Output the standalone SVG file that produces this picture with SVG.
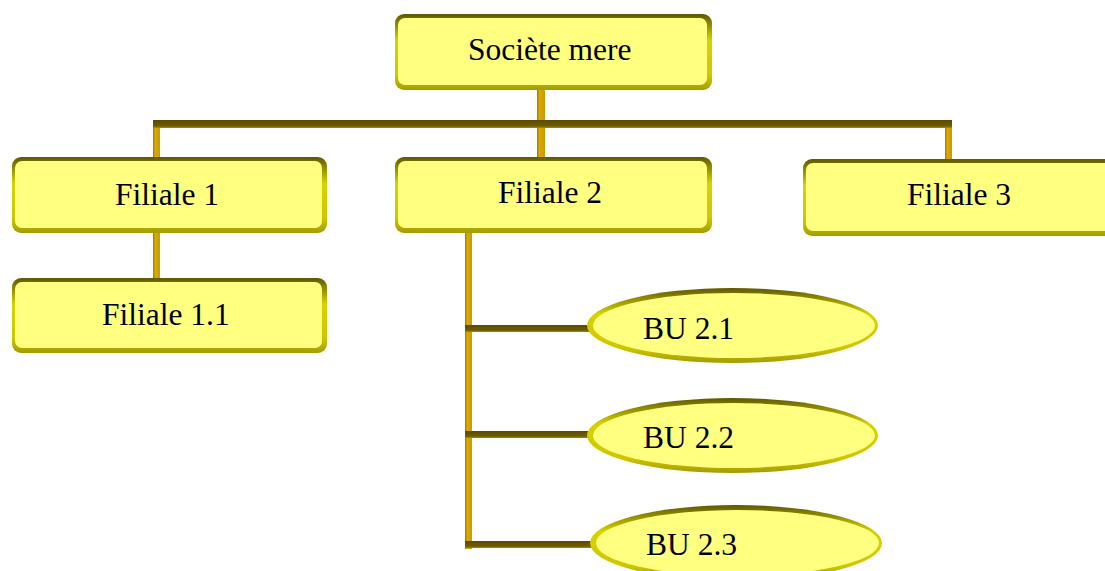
<svg xmlns="http://www.w3.org/2000/svg" width="1105" height="571" viewBox="0 0 1105 571">
  <defs>
    <!-- bevelled rim for boxes and ovals -->
    <linearGradient id="rim" x1="0" y1="0" x2="0" y2="1">
      <stop offset="0" stop-color="#5E5800"/>
      <stop offset="0.12" stop-color="#8A8400"/>
      <stop offset="0.35" stop-color="#D8D200"/>
      <stop offset="0.8" stop-color="#CFC600"/>
      <stop offset="1" stop-color="#A49C00"/>
    </linearGradient>
    <!-- vertical connector bar -->
    <linearGradient id="vbar" x1="0" y1="0" x2="1" y2="0">
      <stop offset="0" stop-color="#9C7800"/>
      <stop offset="0.3" stop-color="#D8AA00"/>
      <stop offset="1" stop-color="#C89C00"/>
    </linearGradient>
    <!-- horizontal connector bar -->
    <linearGradient id="hbar" x1="0" y1="0" x2="0" y2="1">
      <stop offset="0" stop-color="#5A4A00"/>
      <stop offset="0.75" stop-color="#6E5C00"/>
      <stop offset="1" stop-color="#A89000"/>
    </linearGradient>
  </defs>
  <style>
    .rim { fill: url(#rim); }
    .face { fill: #FFFF80; }
    .v { fill: url(#vbar); }
    .h { fill: url(#hbar); }
    .label { font-family: "Liberation Serif", "Times New Roman", serif; font-size: 31.5px; fill: #000; }
  </style>

  <rect width="1105" height="571" fill="#FFFFFF"/>

  <g id="connectors">
    <!-- parent to the three subsidiaries -->
    <rect class="v" x="537" y="88" width="8" height="71"/>
    <rect class="v" x="153" y="124" width="7" height="35"/>
    <rect class="v" x="945" y="124" width="7" height="37"/>
    <rect class="h" x="153" y="120" width="799" height="8"/>
    <!-- Filiale 1 to Filiale 1.1 -->
    <rect class="v" x="153" y="231" width="7" height="49"/>
    <!-- Filiale 2 to business units -->
    <rect class="v" x="465" y="231" width="7" height="318"/>
    <rect class="h" x="465" y="325" width="126" height="7"/>
    <rect class="h" x="465" y="431" width="126" height="7"/>
    <rect class="h" x="465" y="541" width="128" height="7"/>
  </g>

  <g id="societe-mere">
    <rect class="rim" x="395" y="14" width="317" height="76" rx="9"/>
    <rect class="face" x="398" y="18" width="309" height="67" rx="7"/>
    <text class="label" x="468" y="60">Sociète mere</text>
  </g>

  <g id="filiale-1">
    <rect class="rim" x="12" y="157" width="315" height="76" rx="9"/>
    <rect class="face" x="15" y="161" width="307" height="67" rx="7"/>
    <text class="label" x="115" y="205">Filiale 1</text>
  </g>

  <g id="filiale-1-1">
    <rect class="rim" x="12" y="278" width="315" height="75" rx="9"/>
    <rect class="face" x="15" y="282" width="307" height="66" rx="7"/>
    <text class="label" x="102" y="325">Filiale 1.1</text>
  </g>

  <g id="filiale-2">
    <rect class="rim" x="395" y="157" width="317" height="76" rx="9"/>
    <rect class="face" x="398" y="161" width="309" height="67" rx="7"/>
    <text class="label" x="498" y="203">Filiale 2</text>
  </g>

  <g id="filiale-3">
    <rect class="rim" x="803" y="159" width="320" height="77" rx="9"/>
    <rect class="face" x="806" y="163" width="315" height="68" rx="7"/>
    <text class="label" x="907" y="205">Filiale 3</text>
  </g>

  <g id="bu-2-1">
    <ellipse class="rim" cx="732.5" cy="325.5" rx="145.5" ry="37.5"/>
    <ellipse class="face" cx="734" cy="325.5" rx="141" ry="32.5"/>
    <text class="label" x="643" y="339">BU 2.1</text>
  </g>

  <g id="bu-2-2">
    <ellipse class="rim" cx="732.5" cy="435.5" rx="145.5" ry="37.5"/>
    <ellipse class="face" cx="734" cy="435.5" rx="141" ry="32.5"/>
    <text class="label" x="643" y="448">BU 2.2</text>
  </g>

  <g id="bu-2-3">
    <ellipse class="rim" cx="736" cy="543" rx="146" ry="38"/>
    <ellipse class="face" cx="737.5" cy="543" rx="141.5" ry="33"/>
    <text class="label" x="646" y="555">BU 2.3</text>
  </g>
</svg>
